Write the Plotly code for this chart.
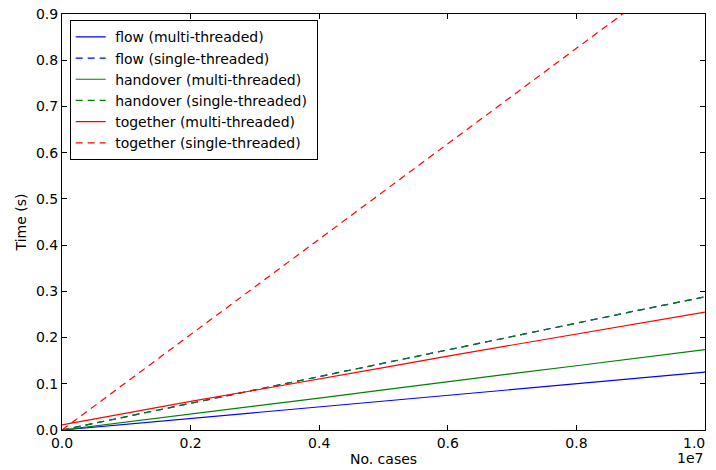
import plotly.graph_objects as go

cases = [0, 1e6, 2e6, 3e6, 4e6, 5e6, 6e6, 7e6, 8e6, 9e6, 1e7]
flow_multi = [0.0, 0.0125, 0.025, 0.037, 0.050, 0.062, 0.075, 0.088, 0.100, 0.113, 0.125]
flow_single = [0.0, 0.029, 0.058, 0.087, 0.115, 0.144, 0.174, 0.203, 0.231, 0.260, 0.288]
handover_multi = [0.0, 0.017, 0.034, 0.051, 0.069, 0.087, 0.105, 0.122, 0.139, 0.157, 0.174]
handover_single = [0.0, 0.029, 0.058, 0.087, 0.115, 0.145, 0.174, 0.203, 0.231, 0.260, 0.288]
together_multi = [0.011, 0.037, 0.062, 0.086, 0.110, 0.135, 0.160, 0.184, 0.208, 0.232, 0.255]
together_single = [0.0, 0.103, 0.206, 0.310, 0.413, 0.516, 0.620, 0.723, 0.826, 0.929, 1.033]

xtick_vals = [0, 2e6, 4e6, 6e6, 8e6, 1e7]
xtick_text = ["0.0", "0.2", "0.4", "0.6", "0.8", "1.0"]
ytick_vals = [0.0, 0.1, 0.2, 0.3, 0.4, 0.5, 0.6, 0.7, 0.8, 0.9]
ytick_text = ["0.0", "0.1", "0.2", "0.3", "0.4", "0.5", "0.6", "0.7", "0.8", "0.9"]

BLUE = "#0000ff"
GREEN = "#008000"
RED = "#ff0000"
DASH = "7px,5px"

series = [
    ("flow (multi-threaded)", flow_multi, BLUE, "solid"),
    ("flow (single-threaded)", flow_single, BLUE, DASH),
    ("handover (multi-threaded)", handover_multi, GREEN, "solid"),
    ("handover (single-threaded)", handover_single, GREEN, DASH),
    ("together (multi-threaded)", together_multi, RED, "solid"),
    ("together (single-threaded)", together_single, RED, DASH),
]

fig = go.Figure()
for name, ys, color, dash in series:
    fig.add_trace(go.Scatter(
        x=cases, y=ys, name="\u00a0" + name + "\u00a0", mode="lines",
        line=dict(color=color, width=1.2, dash=dash),
    ))

font = dict(family="DejaVu Sans", size=14, color="black")

# last x tick label is drawn as an annotation so it stays inside the visible page
axis_ticktext = xtick_text[:-1] + [""]

# page body has an 8px margin; figure is sized/margined to compensate
fig.update_layout(
    width=716, height=462,
    margin=dict(l=54, r=19, t=6, b=40),
    paper_bgcolor="white", plot_bgcolor="white",
    font=font,
    showlegend=True,
    legend=dict(
        x=0.012, y=0.985, xanchor="left", yanchor="top",
        bgcolor="white", bordercolor="black", borderwidth=1,
        font=dict(family="DejaVu Sans", size=14, color="black"),
        tracegroupgap=0, itemwidth=30,
    ),
    xaxis=dict(
        range=[0, 1e7], tickvals=xtick_vals, ticktext=axis_ticktext,
        ticks="inside", ticklen=5, tickcolor="black",
        showline=True, linecolor="black", linewidth=1, mirror="ticks",
        showgrid=False, zeroline=False, automargin=False,
        ticklabeloverflow="allow",
        title=dict(text="No. cases", font=font, standoff=4),
        tickfont=font,
    ),
    yaxis=dict(
        range=[0, 0.9], tickvals=ytick_vals, ticktext=ytick_text,
        ticks="inside", ticklen=5, tickcolor="black",
        showline=True, linecolor="black", linewidth=1, mirror="ticks",
        showgrid=False, zeroline=False, automargin=False,
        ticklabeloverflow="allow",
        title=dict(text="Time (s)", font=font, standoff=6),
        tickfont=font,
    ),
)

fig.add_annotation(
    text=xtick_text[-1], x=xtick_vals[-1], y=0, xref="x", yref="paper",
    xanchor="right", yanchor="middle", xshift=2, yshift=-13,
    showarrow=False, font=font,
)

fig.add_annotation(
    text="1e7", x=1.0, y=0, xref="paper", yref="paper",
    xanchor="right", yanchor="top", yshift=-18, showarrow=False,
    font=font,
)

fig.write_html("out.html")
